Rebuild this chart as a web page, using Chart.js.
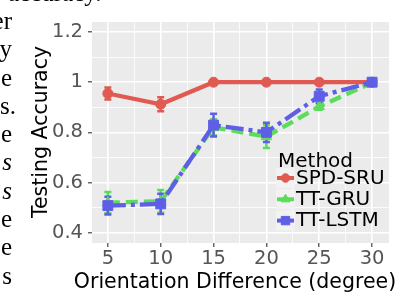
<!DOCTYPE html>
<html>
<head>
<meta charset="utf-8">
<script src="https://cdn.jsdelivr.net/npm/chart.js@4.4.1/dist/chart.umd.min.js"></script>
<style>
html, body { margin: 0; padding: 0; background: #fff; overflow: hidden; }
#wrap { position: relative; width: 400px; height: 306px; }
canvas { position: absolute; left: 0; top: 0; }
.txt { position: absolute; font-family: "Liberation Serif", "DejaVu Serif", serif; font-size: 25px; line-height: 28.3px; color: #000; white-space: nowrap; }
</style>
</head>
<body>
<div id="wrap">
  <canvas id="chart" width="400" height="306"></canvas>
  <div class="txt" style="left:8px; top:-21px;">accuracy.</div>
  <div class="txt" style="right:388px; top:7px; text-align:right;">er<br>y<br>e<br>s<span style="margin-right:-4px">.</span><br>e<br><i>s</i><br><i>s</i><br>e<br>e<br>s</div>
</div>
<script>
// data
const degrees = [5, 10, 15, 20, 25, 30];
const spdSru = [0.955, 0.912, 1.0, 1.0, 1.0, 1.0];
const spdSruErr = [0.024, 0.028, 0.003, 0.003, 0.003, 0.002];
const ttGru = [0.52, 0.525, 0.82, 0.783, 0.903, 0.998];
const ttGruErr = [0.042, 0.045, 0.032, 0.045, 0.013, 0.005];
const ttLstm = [0.508, 0.515, 0.829, 0.80, 0.944, 1.0];
const ttLstmErr = [0.035, 0.04, 0.045, 0.038, 0.027, 0.006];

const xTicks = [5, 10, 15, 20, 25, 30];
const yTicks = [0.4, 0.6, 0.8, 1.0, 1.2];
const yLabels = ["0.4", "0.6", "0.8", "1", "1.2"];

const methods = ["SPD-SRU", "TT-GRU", "TT-LSTM"];
const colors = ["#e05a52", "#5bdc5b", "#5f5ee6"];

const errors = [spdSruErr, ttGruErr, ttLstmErr];

// minor grid lines between the major ones
const midpoints = (arr) => arr.slice(1).map((v, i) => (v + arr[i]) / 2);
const xGrid = xTicks.concat(midpoints(xTicks), [2.5 + xTicks[xTicks.length - 1]]).sort((a, b) => a - b);
const yGrid = yTicks.concat(midpoints(yTicks)).sort((a, b) => a - b);

const FONT = '"DejaVu Sans", Verdana, sans-serif';

const toPoints = (vals) => degrees.map((d, i) => ({ x: d, y: vals[i] }));

const panelBg = {
    id: "panelBg",
    beforeDraw(chart) {
        const { ctx, chartArea: a } = chart;
        ctx.save();
        ctx.fillStyle = "#ebebeb";
        ctx.fillRect(a.left, a.top, a.right - a.left, a.bottom - a.top);
        ctx.restore();
    }
};

const errorBars = {
    id: "errorBars",
    beforeDatasetsDraw(chart) {
        const { ctx, scales } = chart;
        ctx.save();
        chart.data.datasets.forEach((ds, k) => {
            ctx.strokeStyle = ds.borderColor;
            ctx.lineWidth = 2.5;
            ds.data.forEach((p, i) => {
                const e = errors[k][i];
                const x = scales.x.getPixelForValue(p.x);
                const y1 = scales.y.getPixelForValue(p.y - e);
                const y2 = scales.y.getPixelForValue(p.y + e);
                ctx.beginPath();
                ctx.moveTo(x, y1); ctx.lineTo(x, y2);
                ctx.moveTo(x - 3.5, y1); ctx.lineTo(x + 3.5, y1);
                ctx.moveTo(x - 3.5, y2); ctx.lineTo(x + 3.5, y2);
                ctx.stroke();
            });
        });
        ctx.restore();
    }
};

const titlesAndLegend = {
    id: "titlesAndLegend",
    afterDraw(chart) {
        const { ctx } = chart;
        ctx.save();
        ctx.fillStyle = "#000";
        ctx.font = "20.5px " + FONT;
        ctx.textAlign = "center";
        ctx.textBaseline = "alphabetic";
        ctx.fillText("Orientation Difference (degree)", 235, 287.5);
        ctx.save();
        ctx.translate(47, 132);
        ctx.rotate(-Math.PI / 2);
        ctx.fillText("Testing Accuracy", 0, 0);
        ctx.restore();

        // legend
        ctx.textAlign = "left";
        ctx.font = "20px " + FONT;
        ctx.fillText("Method", 278, 166.5);
        chart.data.datasets.forEach((ds, k) => {
            const cy = 178 + k * 21.3;
            ctx.fillStyle = "#f2f2f2";
            ctx.fillRect(276, cy - 10, 19, 20);
            ctx.strokeStyle = ds.borderColor;
            ctx.lineWidth = 4;
            ctx.setLineDash([]);
            ctx.beginPath();
            ctx.moveTo(277, cy); ctx.lineTo(294, cy);
            ctx.stroke();
            ctx.fillStyle = ds.borderColor;
            ctx.lineWidth = 1;
            Chart.helpers.drawPoint(ctx, {
                pointStyle: ds.pointStyle, radius: ds.pointRadius * 0.85, borderWidth: 1, rotation: 0
            }, 285.5, cy);
            ctx.fillStyle = "#000";
            ctx.textBaseline = "middle";
            ctx.fillText(ds.label, 296, cy + 0.5);
        });
        ctx.restore();
    }
};

const makeSet = (k, vals, dash, style, radius) => ({
    label: methods[k],
    data: toPoints(vals),
    borderColor: colors[k],
    backgroundColor: colors[k],
    pointBackgroundColor: colors[k],
    pointBorderColor: colors[k],
    borderWidth: 4.3,
    borderDash: dash,
    pointStyle: style,
    pointRadius: radius,
    pointBorderWidth: 1,
    tension: 0,
    order: 3 - k
});

const isMajor = (list, v) => list.some((t) => Math.abs(t - v) < 1e-6);

new Chart(document.getElementById("chart"), {
    type: "line",
    data: {
        datasets: [
            makeSet(0, spdSru, [], "circle", 5),
            makeSet(1, ttGru, [12, 6], "triangle", 6),
            makeSet(2, ttLstm, [18, 5, 4, 5], "rect", 7)
        ]
    },
    options: {
        responsive: false,
        animation: false,
        devicePixelRatio: 1,
        layout: { padding: { top: 22, right: 11, left: 0, bottom: 0 } },
        plugins: { legend: { display: false }, tooltip: { enabled: false } },
        scales: {
            x: {
                type: "linear",
                min: 3.5,
                max: 31.6,
                afterBuildTicks: (s) => { s.ticks = xGrid.map((v) => ({ value: v })); },
                afterFit: (s) => { s.height = 63; },
                border: { display: false },
                grid: {
                    color: "#ffffff",
                    lineWidth: (c) => isMajor(xTicks, c.tick.value) ? 1.6 : 0.8,
                    tickColor: (c) => isMajor(xTicks, c.tick.value) ? "#333333" : "rgba(0,0,0,0)",
                    tickLength: 4,
                    tickWidth: 1.1
                },
                ticks: {
                    autoSkip: false,
                    maxRotation: 0,
                    padding: 0,
                    color: "#555555",
                    font: { family: FONT, size: 19.5 },
                    callback: (v) => isMajor(xTicks, v) ? String(v) : ""
                }
            },
            y: {
                min: 0.359,
                max: 1.24,
                afterBuildTicks: (s) => { s.ticks = yGrid.map((v) => ({ value: v })); },
                afterFit: (s) => { s.width = 92; },
                border: { display: false },
                grid: {
                    color: "#ffffff",
                    lineWidth: (c) => isMajor(yTicks, c.tick.value) ? 1.6 : 0.8,
                    tickColor: (c) => isMajor(yTicks, c.tick.value) ? "#333333" : "rgba(0,0,0,0)",
                    tickLength: 4,
                    tickWidth: 1.1
                },
                ticks: {
                    autoSkip: false,
                    padding: 5,
                    color: "#555555",
                    font: { family: FONT, size: 19.5 },
                    callback: (v) => {
                        const i = yTicks.findIndex((t) => Math.abs(t - v) < 1e-6);
                        return i >= 0 ? yLabels[i] : "";
                    }
                }
            }
        }
    },
    plugins: [panelBg, errorBars, titlesAndLegend]
});
</script>
</body>
</html>
